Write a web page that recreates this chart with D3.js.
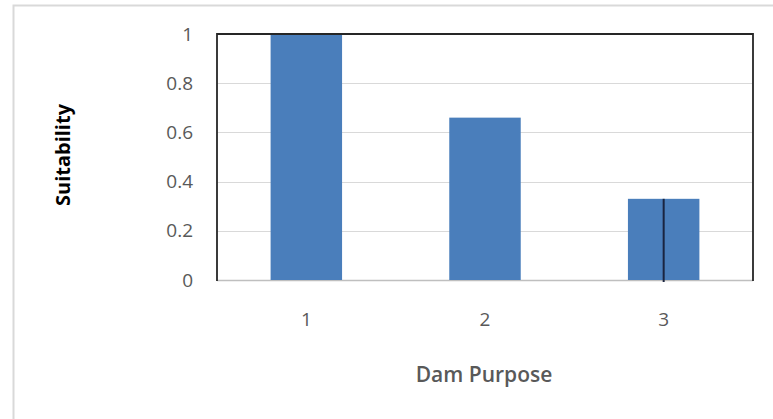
<!DOCTYPE html>
<html><head><meta charset="utf-8">
<script src="https://cdn.jsdelivr.net/npm/d3@7/dist/d3.min.js"></script>
<style>html,body{margin:0;padding:0;background:#fff;}svg{display:block;}</style>
</head><body>
<svg id="chart" width="773" height="419"></svg>
<script>
const categories = ["1", "2", "3"];
const suitability = [1, 0.66, 0.33];
const yTicks = [0, 0.2, 0.4, 0.6, 0.8, 1];
const yTickLabels = ["0", "0.2", "0.4", "0.6", "0.8", "1"];
const markerCategories = ["3"];
const xTitle = "Dam Purpose";
const yTitle = "Suitability";

const svg = d3.select("#chart");
const plot = {left: 217, right: 753, top: 34, bottom: 280};

// outer chart border
svg.append("rect").attr("x", 13.5).attr("y", 5.5).attr("width", 820).attr("height", 500)
  .attr("fill", "#fff").attr("stroke", "#d9d9d9").attr("stroke-width", 2);

const x = d3.scaleBand().domain(categories).range([plot.left, plot.right])
  .paddingInner(0.6).paddingOuter(0.3);
const y = d3.scaleLinear().domain([0, 1]).range([plot.bottom, plot.top]);

// gridlines
svg.append("g").selectAll("line").data(yTicks.filter(t => t > 0 && t < 1)).join("line")
  .attr("x1", plot.left).attr("x2", plot.right)
  .attr("y1", d => Math.round(y(d)) + 0.5).attr("y2", d => Math.round(y(d)) + 0.5)
  .attr("stroke", "#d9d9d9").attr("stroke-width", 1);

// bottom axis line
svg.append("line").attr("x1", plot.left).attr("x2", plot.right)
  .attr("y1", y(0) + 0.5).attr("y2", y(0) + 0.5)
  .attr("stroke", "#bfbfbf").attr("stroke-width", 1.5);

// bars
svg.append("g").selectAll("rect").data(categories).join("rect")
  .attr("x", d => x(d)).attr("width", x.bandwidth())
  .attr("y", (d, i) => y(suitability[i]))
  .attr("height", (d, i) => y(0) - y(suitability[i]))
  .attr("fill", "#4a7ebb");

// marker line(s)
svg.append("g").selectAll("line").data(markerCategories).join("line")
  .attr("x1", d => x(d) + x.bandwidth() / 2).attr("x2", d => x(d) + x.bandwidth() / 2)
  .attr("y1", d => y(suitability[categories.indexOf(d)]))
  .attr("y2", y(0) + 2)
  .attr("stroke", "#1a2440").attr("stroke-width", 2);

// plot frame: top, left, right
svg.append("path")
  .attr("d", `M${plot.left},${plot.bottom + 1}V${plot.top}H${plot.right}V${plot.bottom + 1}`)
  .attr("fill", "none").attr("stroke", "#262626").attr("stroke-width", 1.8);

// y tick labels
svg.append("g").selectAll("text").data(yTicks).join("text")
  .attr("x", 193).attr("y", d => y(d)).attr("dy", "0.35em")
  .attr("text-anchor", "end")
  .attr("font-family", "Open Sans, sans-serif").attr("font-size", 19)
  .attr("fill", "#595959")
  .text((d, i) => yTickLabels[i]);

// x tick labels
svg.append("g").selectAll("text").data(categories).join("text")
  .attr("x", d => x(d) + x.bandwidth() / 2).attr("y", 319).attr("dy", "0.35em")
  .attr("text-anchor", "middle")
  .attr("font-family", "Open Sans, sans-serif").attr("font-size", 19)
  .attr("fill", "#595959")
  .text(d => d);

// x title
svg.append("text").attr("x", (plot.left + plot.right) / 2 - 1).attr("y", 375).attr("dy", "0.35em")
  .attr("text-anchor", "middle")
  .attr("font-family", "Open Sans, sans-serif").attr("font-size", 21).attr("font-weight", 600)
  .attr("fill", "#595959")
  .text(xTitle);

// y title
svg.append("text").attr("transform", `translate(63,${(plot.top + plot.bottom) / 2 - 2}) rotate(-90)`)
  .attr("dy", "0.35em").attr("text-anchor", "middle")
  .attr("font-family", "Open Sans, sans-serif").attr("font-size", 20).attr("font-weight", 700)
  .attr("fill", "#000")
  .text(yTitle);
</script>
</body></html>
